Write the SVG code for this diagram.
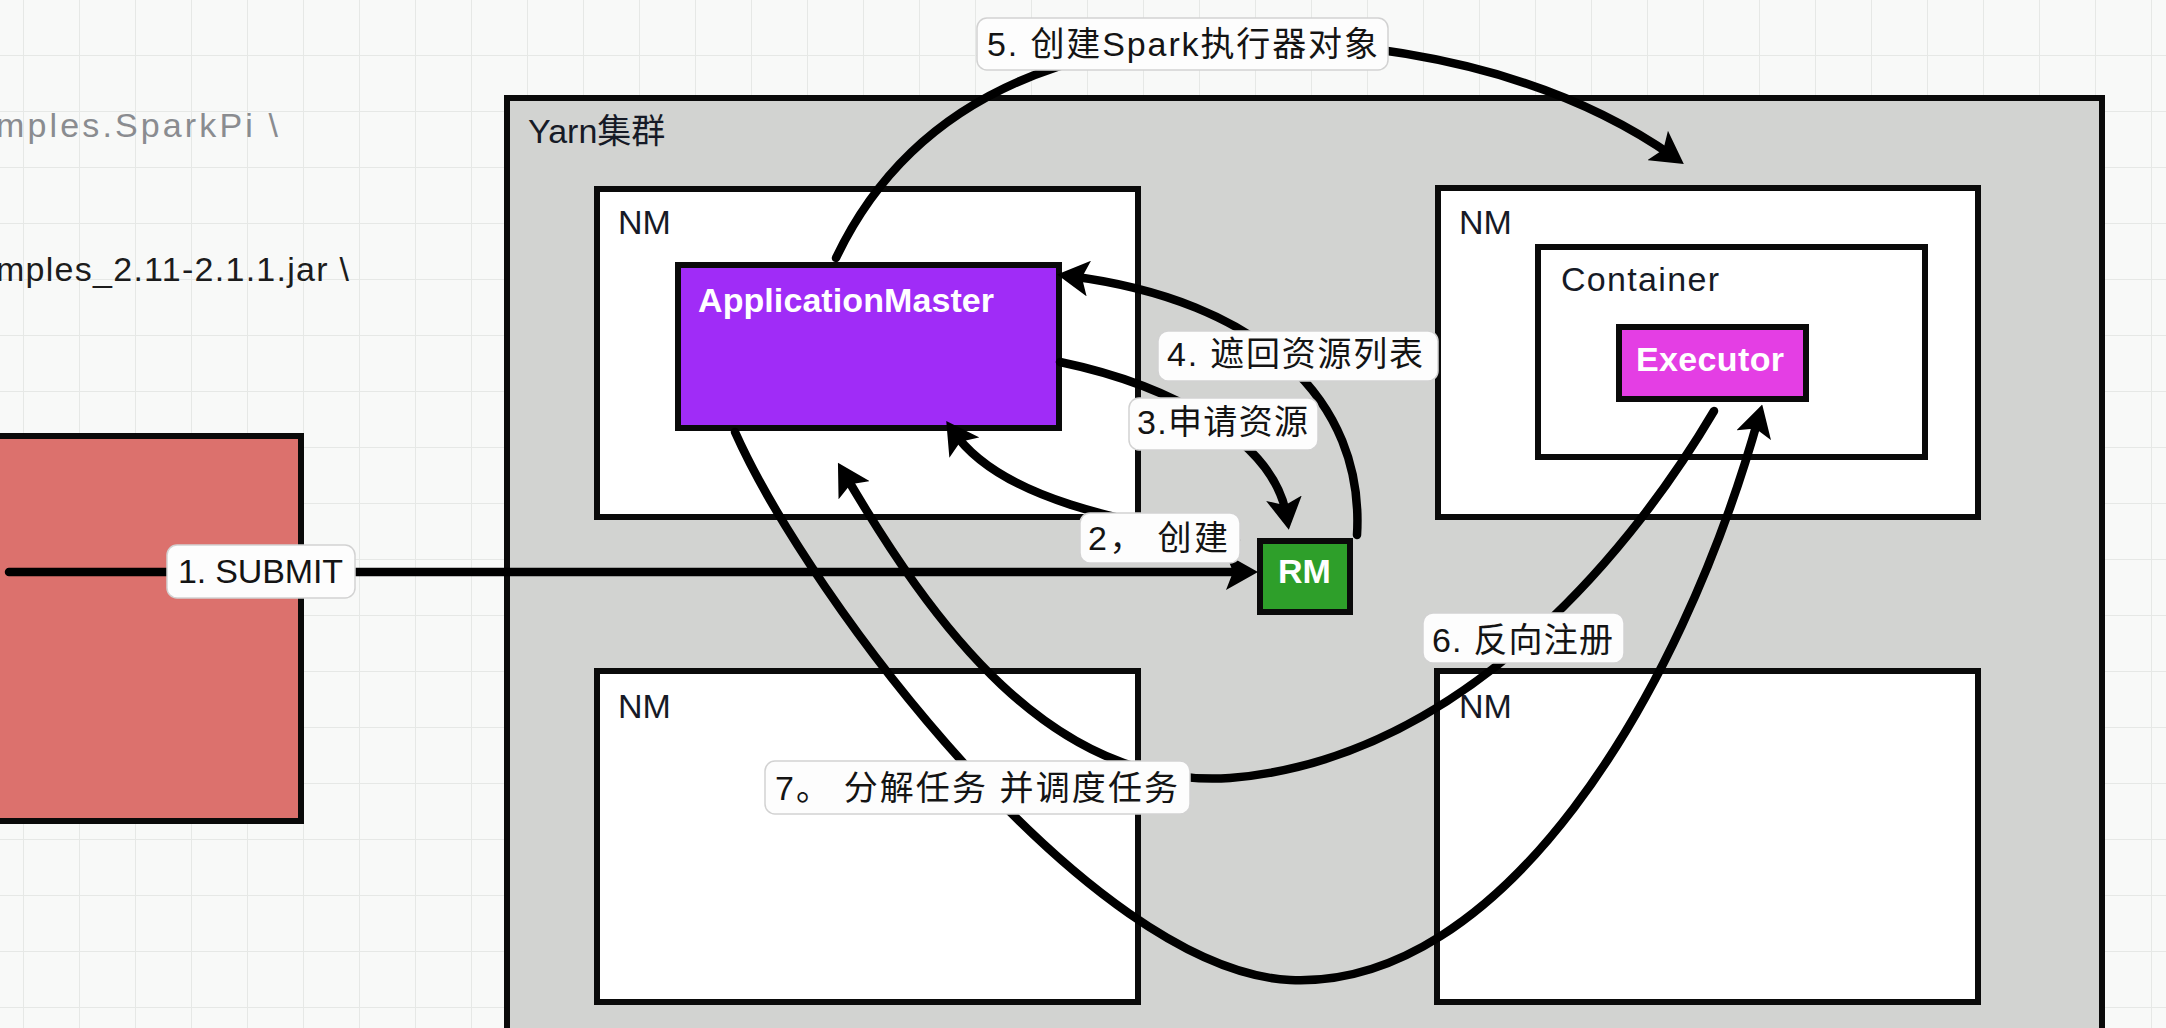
<svg xmlns="http://www.w3.org/2000/svg" width="2166" height="1028" viewBox="0 0 2166 1028">
<defs>
<pattern id="grid" patternUnits="userSpaceOnUse" x="23" y="55" width="56" height="56">
<path d="M0 0H56M0 0V56" fill="none" stroke="#e6e8e6" stroke-width="2"/>
</pattern>
<marker id="arrow" markerUnits="userSpaceOnUse" viewBox="0 0 32 36" markerWidth="32" markerHeight="36" refX="20" refY="18" orient="auto">
<path d="M0 0 L32 18 L0 36 L7 18 Z" fill="#000"/>
</marker>
</defs>
<style>
.box{stroke:#0a0a0a;stroke-width:6}
.nm{fill:#ffffff}
.t{font-family:"Liberation Sans","Noto Sans CJK SC",sans-serif;font-size:34px;fill:#161a26}
.w{fill:#ffffff;font-weight:bold}
.edge{fill:none;stroke:#000;stroke-width:8.5;stroke-linecap:round}
.tag{fill:#fdfdfd;stroke:#d2d2d2;stroke-width:1.5}
.lt{font-family:"Liberation Sans","Noto Sans CJK SC",sans-serif;font-size:34px;fill:#141414}
</style>
<rect width="2166" height="1028" fill="#f8f9f8"/>
<rect width="2166" height="1028" fill="url(#grid)"/>
<g id="cmd-text">
<text class="t" x="-4" y="137" style="fill:#8a8c90" textLength="282" lengthAdjust="spacing">mples.SparkPi \</text>
<text class="t" x="-4" y="281" style="fill:#1c1c1c" textLength="353" lengthAdjust="spacing">mples_2.11-2.1.1.jar \</text>
</g>
<g id="client">
<rect class="box" x="-10" y="436" width="311" height="385" fill="#dc716d"/>
</g>
<g id="yarn">
<rect class="box" x="507" y="98" width="1595" height="960" fill="#d2d3d1"/>
<text class="t" x="528" y="143">Yarn集群</text>
</g>
<g id="nm-top-left">
<rect class="box nm" x="597" y="189" width="541" height="328"/>
<text class="t" x="618" y="234">NM</text>
</g>
<g id="nm-top-right">
<rect class="box nm" x="1438" y="188" width="540" height="329"/>
<text class="t" x="1459" y="234">NM</text>
</g>
<g id="nm-bottom-left">
<rect class="box nm" x="597" y="671" width="541" height="331"/>
<text class="t" x="618" y="718">NM</text>
</g>
<g id="nm-bottom-right">
<rect class="box nm" x="1437" y="671" width="541" height="331"/>
<text class="t" x="1459" y="718">NM</text>
</g>
<g id="container">
<rect class="box nm" x="1538" y="247" width="387" height="210"/>
<text class="t" x="1561" y="291" textLength="158" lengthAdjust="spacing">Container</text>
</g>
<g id="executor">
<rect class="box" x="1619" y="327" width="187" height="72" fill="#e43ee4"/>
<text class="t w" x="1636" y="371" textLength="148" lengthAdjust="spacing">Executor</text>
</g>
<g id="application-master">
<rect class="box" x="678" y="265" width="381" height="163" fill="#a02cf7"/>
<text class="t w" x="698" y="312" textLength="296" lengthAdjust="spacing">ApplicationMaster</text>
</g>
<g id="rm">
<rect class="box" x="1260" y="541" width="90" height="71" fill="#2e9f2a"/>
<text class="t w" x="1278" y="583">RM</text>
</g>
<g id="connectors">
<path class="edge" d="M9 572 H1246" marker-end="url(#arrow)"/>
<path class="edge" d="M1236 540 C1125 522 1000 500 953 431" marker-end="url(#arrow)"/>
<path class="edge" d="M1060 362 C1170 385 1275 440 1287 518" marker-end="url(#arrow)"/>
<path class="edge" d="M1357 535 C1365 400 1260 300 1069 276" marker-end="url(#arrow)"/>
<path class="edge" d="M836 258 Q930 60 1200 40 Q1500 35 1674 157" marker-end="url(#arrow)"/>
<path class="edge" d="M1714 411 C1620 570 1450 760 1230 778 C1050 790 930 620 844 473" marker-end="url(#arrow)"/>
<path class="edge" d="M735 432 C810 600 1090 970 1290 980 C1500 990 1680 700 1759 416" marker-end="url(#arrow)"/>
</g>
<g id="edge-labels">
<rect class="tag" x="167" y="545" width="188" height="53" rx="10"/>
<text class="lt" x="178" y="583" textLength="165" lengthAdjust="spacing">1. SUBMIT</text>
<rect class="tag" x="1080" y="513" width="160" height="50" rx="10"/>
<text class="lt" x="1088" y="550" textLength="140" lengthAdjust="spacing">2， 创建</text>
<rect class="tag" x="1129" y="398" width="189" height="52" rx="10"/>
<text class="lt" x="1137" y="434" textLength="171" lengthAdjust="spacing">3.申请资源</text>
<rect class="tag" x="1158" y="331" width="280" height="50" rx="10"/>
<text class="lt" x="1167" y="366" textLength="256" lengthAdjust="spacing">4. 遮回资源列表</text>
<rect class="tag" x="977" y="18" width="411" height="52" rx="10"/>
<text class="lt" x="987" y="56" textLength="391" lengthAdjust="spacing">5. 创建Spark执行器对象</text>
<rect class="tag" x="1423" y="613" width="201" height="50" rx="10"/>
<text class="lt" x="1432" y="652" textLength="181" lengthAdjust="spacing">6. 反向注册</text>
<rect class="tag" x="765" y="761" width="425" height="53" rx="10"/>
<text class="lt" x="775" y="800" textLength="403" lengthAdjust="spacing">7。 分解任务 并调度任务</text>
</g>
</svg>
